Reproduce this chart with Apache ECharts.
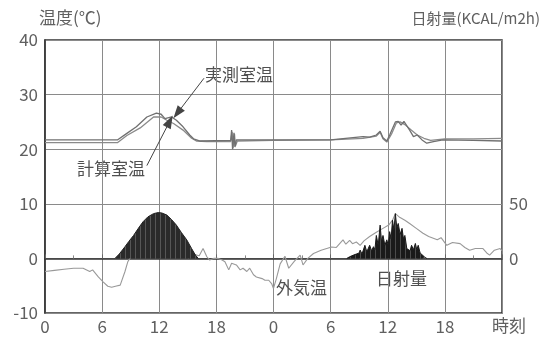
<!DOCTYPE html>
<html>
<head>
<meta charset="utf-8">
<script src="https://cdn.jsdelivr.net/npm/echarts@6/dist/echarts.min.js"></script>
<style>
  html, body { margin: 0; padding: 0; background: #fff; }
  #chart { width: 542px; height: 337px; }
</style>
</head>
<body>
<div id="chart"></div>
<script>
// Hour ticks over two days (0-48 h) and their printed labels
const hourTicks = [0, 6, 12, 18, 24, 30, 36, 42, 48];
const hourLabels = ['0', '6', '12', '18', '0', '6', '12', '18', ''];

// Left axis: temperature (°C)
const tempTicks = [-10, 0, 10, 20, 30, 40];
// Right axis: solar radiation, only 0 and 50 labelled
const solarLabelled = [0, 50];

// Measured room temperature [hour, °C]
const measuredRoom = [
  [0, 21.7], [4, 21.7], [7.6, 21.7], [8.6, 22.9], [9.6, 24.1], [10.7, 25.9],
  [11.7, 26.6], [12.2, 26.4], [12.6, 25.6], [13.3, 25.9], [13.8, 25.3],
  [14.5, 24.1], [15.2, 22.6], [15.6, 21.9], [16.3, 21.5], [19.5, 21.6],
  [19.6, 23.5], [19.7, 20.0], [19.85, 23.0], [19.95, 20.4], [20.1, 21.7],
  [24, 21.7], [30, 21.7], [33.4, 22.3], [34.1, 22.2], [34.8, 22.6],
  [35.2, 23.3], [35.5, 22.1], [35.9, 21.5], [36.2, 22.6], [36.8, 25.0],
  [37.1, 25.1], [37.4, 24.4], [37.7, 25.1], [38.3, 23.5], [38.7, 22.3],
  [39.1, 22.6], [39.6, 21.7], [40.1, 21.1], [40.8, 21.4], [41.8, 21.7],
  [45, 21.6], [48, 21.5]
];

// Calculated room temperature [hour, °C]
const calculatedRoom = [
  [0, 21.2], [4, 21.2], [7.6, 21.2], [8.6, 22.5], [10, 23.9], [11.4, 25.9],
  [12.2, 25.9], [12.8, 25.3], [13.5, 24.7], [14.5, 23.5], [15.4, 22.0],
  [15.9, 21.5], [17, 21.4], [19.5, 21.4], [19.65, 23.2], [19.75, 20.2],
  [19.9, 22.8], [20.0, 20.6], [20.2, 21.5], [24, 21.6], [30, 21.7],
  [33.4, 22.0], [34.8, 22.4], [35.2, 23.1], [35.5, 21.9], [35.9, 21.3],
  [36.4, 22.8], [36.9, 24.8], [37.3, 25.0], [37.8, 24.5], [38.4, 23.6],
  [39.1, 22.6], [39.8, 22.0], [40.5, 21.6], [42, 21.9], [45, 21.9], [48, 22.0]
];

// Outdoor air temperature [hour, °C]
const outdoorTemp = [
  [0, -2.4], [1, -2.2], [2, -2.0], [3, -1.8], [4, -1.8], [4.7, -2.4], [5, -2.1],
  [5.6, -3.4], [6.1, -4.3], [6.6, -5.1], [7.0, -5.3], [7.4, -5.1], [7.9, -4.9],
  [8.4, -2.4], [8.7, -0.6], [8.9, 0], [9.5, 1.2], [10.5, 1.8], [12, 2.0],
  [14, 1.6], [15.5, 0.8], [16.2, 0.5], [16.6, 1.8], [17, 0.3], [17.3, -0.3],
  [17.7, 0], [18.2, 0], [18.6, -0.3], [18.9, -0.6], [19.3, -2.1], [19.6, -0.9],
  [20.1, -1.2], [20.5, -2.1], [20.8, -1.8], [21.2, -2.4], [21.5, -1.8],
  [21.9, -3.0], [22.2, -3.4], [22.8, -3.7], [23.1, -4.0], [23.5, -4.0],
  [23.8, -4.6], [24.0, -5.5], [24.3, -3.7], [24.7, -1.0], [25.2, 0.4],
  [25.6, -1.8], [26.2, -0.5], [26.8, 0.6], [27.1, -1.2], [27.6, 0], [28.2, 0.9],
  [29, 1.5], [30.1, 2.1], [30.6, 2.0], [31.3, 3.4], [31.6, 2.6], [32.0, 3.3],
  [32.3, 2.7], [32.7, 3.0], [33.1, 2.4], [33.5, 3.2], [34.1, 4.0], [34.8, 4.8],
  [35.5, 5.5], [36.1, 6.1], [36.5, 7.0], [36.8, 8.2], [37.2, 7.6], [37.8, 7.0],
  [38.3, 6.4], [39.0, 5.5], [39.7, 4.6], [40.3, 4.0], [41.2, 3.4], [41.6, 3.8],
  [42.2, 2.4], [42.8, 2.9], [43.6, 2.7], [44.1, 2.0], [44.6, 1.5], [45.2, 1.8],
  [46, 1.8], [46.4, 1.0], [46.7, 0.6], [47.2, 1.5], [47.8, 1.8], [48, 1.4]
];

// Solar radiation, first day [hour, kcal/m2h]
const solarDay1 = [
  [7.35, 0], [7.8, 4], [8.4, 10.7], [8.8, 15.5], [9.3, 21], [9.8, 27.5],
  [10.3, 33.6], [10.8, 38], [11.4, 41], [11.9, 42], [12.3, 41.5], [12.8, 39.7],
  [13.3, 35.5], [13.8, 30.5], [14.3, 24], [14.9, 16.8], [15.4, 9], [15.8, 3],
  [16.1, 0]
];

// Solar radiation, second day [hour, kcal/m2h]
const solarDay2 = [
  [31.7, 0], [32.0, 1.5], [32.4, 3], [32.7, 4], [33.0, 5], [33.1, 7.6],
  [33.3, 4], [33.6, 12], [33.8, 6], [34.1, 12], [34.3, 7], [34.5, 10.7],
  [34.65, 8], [34.8, 21], [35.0, 12], [35.2, 30.5], [35.35, 15], [35.5, 21],
  [35.7, 12], [35.9, 17], [36.05, 12], [36.2, 24.5], [36.35, 18], [36.5, 35],
  [36.65, 26], [36.8, 41], [36.95, 28], [37.1, 32], [37.3, 22], [37.5, 27.5],
  [37.65, 18], [37.8, 21], [38.0, 9], [38.2, 10.7], [38.35, 7], [38.5, 12],
  [38.7, 8], [38.9, 13.7], [39.05, 8], [39.2, 12], [39.4, 5], [39.6, 4.6],
  [39.9, 1], [40.1, 0]
];

const FONT = '"Noto Sans CJK JP", "Noto Sans", sans-serif';
const INK = '#606060';

const chart = echarts.init(document.getElementById('chart'), null, { renderer: 'canvas' });

// faint vertical hatching inside the radiation fill
const hatch = {
  symbol: 'rect',
  symbolSize: 1,
  color: 'rgba(170,170,170,0.35)',
  dashArrayX: [1, 4],
  dashArrayY: [4, 0],
  rotation: 0
};

function arrowLine(from, to) {
  return {
    silent: true,
    symbol: ['none', 'triangle'],
    symbolSize: [9, 13],
    label: { show: false },
    lineStyle: { color: '#444', width: 1, type: 'solid' },
    itemStyle: { color: '#222' },
    data: [[{ coord: from }, { coord: to }]]
  };
}

const option = {
  backgroundColor: '#fff',
  animation: false,
  grid: {
    left: 45, right: 40, top: 40, bottom: 24,
    show: true, borderColor: '#333', borderWidth: 1.5, backgroundColor: 'transparent'
  },
  xAxis: {
    type: 'value',
    min: hourTicks[0],
    max: hourTicks[hourTicks.length - 1],
    interval: 6,
    axisLine: { show: true, lineStyle: { color: '#333', width: 1.5 } },
    axisTick: { show: true, inside: true, length: 4, lineStyle: { color: '#666' } },
    minorTick: { show: true, splitNumber: 2, length: 3, lineStyle: { color: '#888' } },
    splitLine: { show: true, lineStyle: { color: '#8a8a8a', width: 1 } },
    axisLabel: {
      margin: 5, fontSize: 17, color: INK, fontFamily: FONT,
      formatter: v => hourLabels[hourTicks.indexOf(v)] ?? ''
    }
  },
  yAxis: [
    {
      type: 'value',
      min: tempTicks[0],
      max: tempTicks[tempTicks.length - 1],
      interval: 10,
      axisLine: { show: true, lineStyle: { color: '#333', width: 1.5 } },
      axisTick: { show: false },
      splitLine: { show: true, lineStyle: { color: '#8a8a8a', width: 1 } },
      axisLabel: { margin: 7, fontSize: 17, color: INK, fontFamily: FONT }
    },
    {
      type: 'value',
      min: -50, max: 200, interval: 50,
      position: 'right',
      axisLine: { show: false },
      axisTick: { show: false },
      splitLine: { show: false },
      axisLabel: {
        margin: 7, fontSize: 17, color: INK, fontFamily: FONT,
        formatter: v => solarLabelled.includes(v) ? String(v) : ''
      }
    }
  ],
  series: [
    {
      name: '外気温', type: 'line', data: outdoorTemp, yAxisIndex: 0,
      showSymbol: false, z: 2,
      lineStyle: { color: '#999', width: 1.1 }
    },
    {
      name: '日射量1', type: 'line', data: solarDay1, yAxisIndex: 1,
      showSymbol: false, z: 3,
      lineStyle: { color: '#222', width: 1 },
      itemStyle: { color: '#2a2a2a', decal: hatch },
      areaStyle: { color: '#2a2a2a', opacity: 1 }
    },
    {
      name: '日射量2', type: 'line', data: solarDay2, yAxisIndex: 1,
      showSymbol: false, z: 3,
      lineStyle: { color: '#1a1a1a', width: 1 },
      itemStyle: { color: '#1a1a1a', decal: hatch },
      areaStyle: { color: '#1a1a1a', opacity: 1 }
    },
    {
      name: '計算室温', type: 'line', data: calculatedRoom, yAxisIndex: 0,
      showSymbol: false, z: 4,
      lineStyle: { color: '#8a8a8a', width: 1.3 },
      markLine: arrowLine([10.7, 17.0], [13.1, 25.1])
    },
    {
      name: '実測室温', type: 'line', data: measuredRoom, yAxisIndex: 0,
      showSymbol: false, z: 4,
      lineStyle: { color: '#707070', width: 1.3 },
      markLine: arrowLine([16.7, 33.0], [13.9, 26.6])
    }
  ],
  graphic: [
    { type: 'text', left: 39, top: 9, style: { text: '温度(℃)', font: '17px ' + FONT, fill: INK } },
    { type: 'text', right: 2, top: 11, style: { text: '日射量(KCAL/m2h)', font: '15px ' + FONT, fill: INK } },
    { type: 'text', left: 492, top: 317, style: { text: '時刻', font: '17px ' + FONT, fill: INK } },
    { type: 'text', left: 205, top: 66, style: { text: '実測室温', font: '17px ' + FONT, fill: '#505050' } },
    { type: 'text', left: 77, top: 160, style: { text: '計算室温', font: '17px ' + FONT, fill: '#505050' } },
    { type: 'text', left: 276, top: 279, style: { text: '外気温', font: '17px ' + FONT, fill: '#505050' } },
    { type: 'text', left: 376, top: 270, style: { text: '日射量', font: '17px ' + FONT, fill: '#505050' } }
  ]
};

chart.setOption(option);
</script>
</body>
</html>
